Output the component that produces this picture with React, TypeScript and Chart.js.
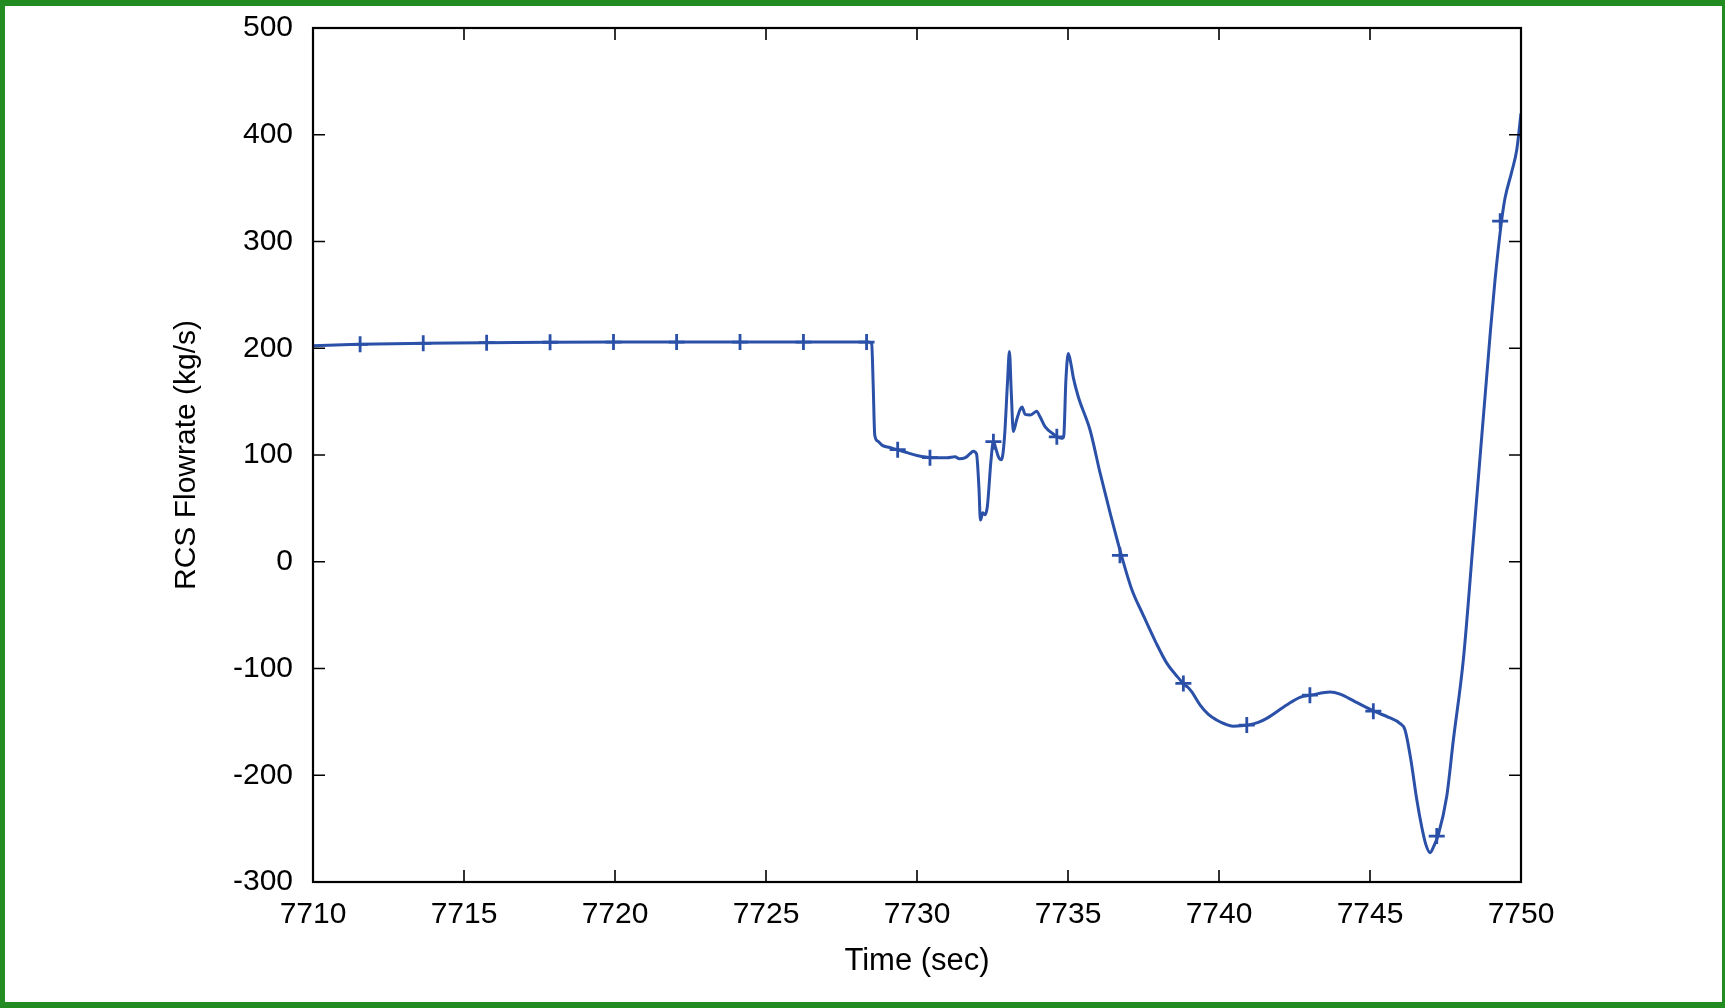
import React, { useEffect, useRef } from "react";
import { Chart, registerables } from "chart.js";

Chart.register(...registerables);

// Curve samples: time (sec) and RCS flowrate (kg/s)
const timeValues: number[] = [
  7710.0, 7711.5, 7713.6, 7715.7, 7717.8, 7720.0, 7724.0, 7728.4, 7728.5, 7728.55,
  7728.6, 7728.7, 7728.85, 7729.1, 7729.33, 7729.7, 7730.0, 7730.5, 7731.0, 7731.26,
  7731.4, 7731.6, 7731.75, 7731.86, 7731.97, 7732.05, 7732.1, 7732.18, 7732.25, 7732.33,
  7732.45, 7732.53, 7732.6, 7732.7, 7732.8, 7732.9, 7733.0, 7733.06, 7733.12, 7733.19,
  7733.3, 7733.42, 7733.48, 7733.58, 7733.75, 7733.9, 7733.96, 7734.07, 7734.24, 7734.51,
  7734.79, 7734.86, 7734.93, 7735.01, 7735.1, 7735.18, 7735.34, 7735.73, 7736.06, 7736.4,
  7736.78, 7737.1, 7737.49, 7737.9, 7738.27, 7738.6, 7738.87, 7738.97, 7739.1, 7739.37,
  7739.65, 7739.92, 7740.2, 7740.47, 7740.97, 7741.3, 7741.58, 7742.24, 7742.68, 7743.07,
  7743.68, 7744.01, 7744.5, 7745.17, 7745.6, 7745.99, 7746.16, 7746.35, 7746.55, 7746.71,
  7746.85, 7746.99, 7747.12, 7747.26, 7747.54, 7747.76, 7748.09, 7748.42, 7748.99, 7749.14,
  7749.36, 7749.47, 7749.69, 7749.86, 7750.0,
];

const flowValues: number[] = [
  202.4, 203.7, 204.6, 205.2, 205.6, 205.8, 205.8, 205.8, 204, 165,
  119, 113, 109, 107, 105, 102, 99.5, 97.5, 97.5, 98.4,
  96.5, 97.5, 101, 103.5, 101, 70, 39, 46, 44, 52,
  95, 113, 107, 98, 95.5, 118, 170, 197, 160, 122,
  133, 143, 145, 138, 137.5, 140, 141, 136, 126.5, 119.7,
  115.6, 118, 170, 195, 185, 172, 154.6, 123.4, 83.5, 45,
  4.8, -25, -50, -75, -95, -107, -115.5, -117.6, -122, -134,
  -143, -148.2, -152, -154, -153, -150.5, -146.7, -134.2, -127, -124.8,
  -122, -124, -131, -140.5, -145.5, -151.4, -157.6, -185, -223, -248,
  -265, -272.5, -266, -256, -220, -167, -92, 20, 217, 264,
  320, 340.5, 365, 386, 420,
];

// '+' markers along the curve
const markerTimes: number[] = [
  7711.56, 7713.65, 7715.75, 7717.85, 7719.95, 7722.04, 7724.14, 7726.24, 7728.33, 7729.36,
  7730.43, 7732.53, 7734.63, 7736.72, 7738.82, 7740.92, 7743.01, 7745.11, 7747.21, 7749.31,
];
const markerFlows: number[] = [
  203.7, 204.6, 205.2, 205.6, 205.8, 205.8, 205.8, 205.8, 205.8, 105,
  97.5, 112.5, 117, 6, -114, -153, -125, -140, -257, 319,
];

const xTicks: number[] = [7710, 7715, 7720, 7725, 7730, 7735, 7740, 7745, 7750];
const yTicks: number[] = [-300, -200, -100, 0, 100, 200, 300, 400, 500];

const xTitle = "Time (sec)";
const yTitle = "RCS Flowrate (kg/s)";

const LINE_COLOR = "rgb(42, 80, 168)";
const FONT_FAMILY = "'Liberation Sans', Arial, Helvetica, sans-serif";

const framePlugin = {
  id: "gnuFrame",
  afterDraw(chart: any) {
    const { ctx, chartArea } = chart;
    const { left, right, top, bottom } = chartArea;
    const xs = chart.scales.x;
    const ys = chart.scales.y;
    ctx.save();
    ctx.strokeStyle = "#000";
    ctx.lineWidth = 1.6;
    const tl = 12;
    ctx.beginPath();
    xTicks.forEach((v) => {
      const px = xs.getPixelForValue(v);
      ctx.moveTo(px, bottom);
      ctx.lineTo(px, bottom - tl);
      ctx.moveTo(px, top);
      ctx.lineTo(px, top + tl);
    });
    yTicks.forEach((v) => {
      const py = ys.getPixelForValue(v);
      ctx.moveTo(left, py);
      ctx.lineTo(left + tl, py);
      ctx.moveTo(right, py);
      ctx.lineTo(right - tl, py);
    });
    ctx.stroke();
    ctx.lineWidth = 2.2;
    ctx.strokeRect(left, top, right - left, bottom - top);
    ctx.restore();
  },
};

export default function App() {
  const canvasRef = useRef<HTMLCanvasElement | null>(null);

  useEffect(() => {
    if (!canvasRef.current) return;
    const lineData = timeValues.map((t, i) => ({ x: t, y: flowValues[i] }));
    const markerData = markerTimes.map((t, i) => ({ x: t, y: markerFlows[i] }));

    const chart = new Chart(canvasRef.current, {
      type: "line",
      data: {
        datasets: [
          {
            label: "RCS Flowrate",
            data: lineData,
            borderColor: LINE_COLOR,
            borderWidth: 3,
            pointRadius: 0,
            cubicInterpolationMode: "monotone",
            fill: false,
          },
          {
            label: "markers",
            data: markerData,
            showLine: false,
            pointStyle: "cross",
            pointRadius: 8,
            pointBorderWidth: 2.8,
            borderColor: LINE_COLOR,
            backgroundColor: LINE_COLOR,
            pointBorderColor: LINE_COLOR,
          },
        ],
      },
      options: {
        animation: false,
        responsive: false,
        devicePixelRatio: 1,
        layout: { autoPadding: false, padding: { left: 0, top: 28, right: 204, bottom: 0 } },
        plugins: {
          legend: { display: false },
          tooltip: { enabled: false },
        },
        scales: {
          x: {
            type: "linear",
            min: 7710,
            max: 7750,
            grid: { display: false, drawTicks: false },
            border: { display: false },
            ticks: {
              stepSize: 5,
              autoSkip: false,
              maxRotation: 0,
              padding: 15,
              color: "#000",
              font: { family: FONT_FAMILY, size: 30 },
              callback: (v: any) => String(v),
            },
            title: {
              display: true,
              text: xTitle,
              color: "#000",
              font: { family: FONT_FAMILY, size: 31 },
              padding: { top: 0, bottom: 28 },
            },
            afterFit: (scale: any) => {
              scale.height = 126;
              scale.paddingLeft = 0;
              scale.paddingRight = 0;
            },
          },
          y: {
            type: "linear",
            min: -300,
            max: 500,
            grid: { display: false, drawTicks: false },
            border: { display: false },
            ticks: {
              stepSize: 100,
              autoSkip: false,
              padding: 20,
              color: "#000",
              font: { family: FONT_FAMILY, size: 30 },
              callback: (v: any) => String(v),
            },
            title: {
              display: true,
              text: yTitle,
              color: "#000",
              font: { family: FONT_FAMILY, size: 30 },
              padding: { top: 169, bottom: 0 },
            },
            afterFit: (scale: any) => {
              scale.width = 313;
              scale.paddingTop = 0;
              scale.paddingBottom = 0;
            },
          },
        },
      },
      plugins: [framePlugin],
    });
    return () => chart.destroy();
  }, []);

  return (
    <div
      style={{
        position: "fixed",
        left: 0,
        top: 0,
        width: 1725,
        height: 1008,
        background: "#fff",
        overflow: "hidden",
      }}
    >
      <canvas
        ref={canvasRef}
        width={1725}
        height={1008}
        style={{ position: "absolute", left: 0, top: 0, width: 1725, height: 1008 }}
      />
      <div
        style={{
          position: "absolute",
          left: 0,
          top: 0,
          width: 1725,
          height: 1008,
          boxSizing: "border-box",
          borderStyle: "solid",
          borderColor: "#228B22",
          borderWidth: "6px 3px 6px 5px",
          pointerEvents: "none",
        }}
      />
    </div>
  );
}
